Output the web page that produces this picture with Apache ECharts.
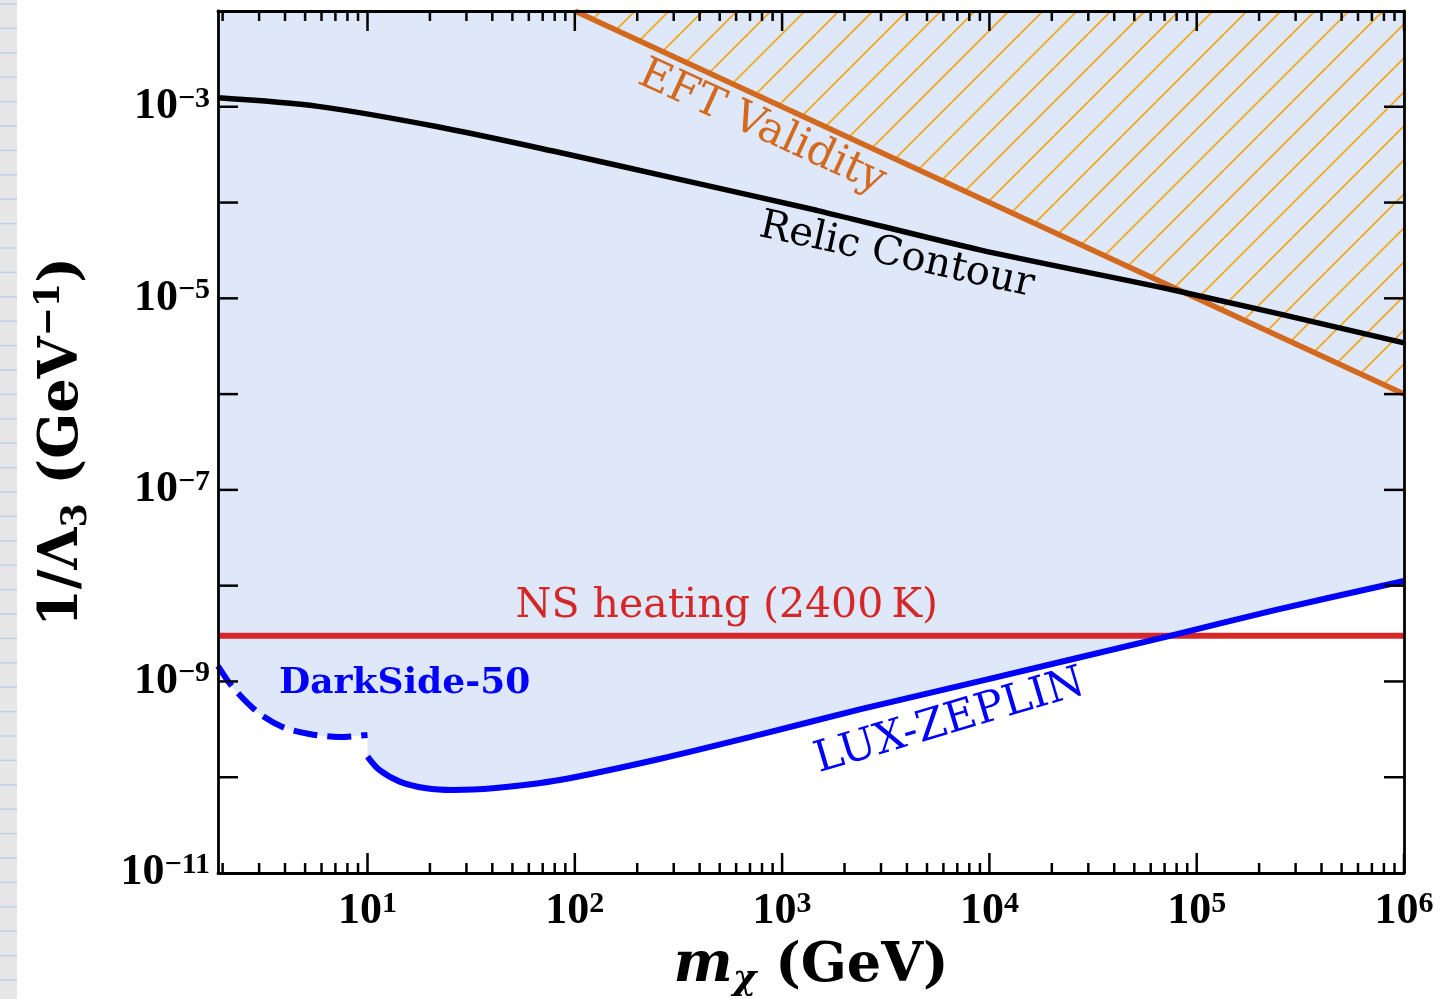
<!DOCTYPE html>
<html>
<head>
<meta charset="utf-8">
<title>1/Λ3 versus mχ</title>
<script src="https://cdn.jsdelivr.net/npm/echarts@6.0.0/dist/echarts.min.js"></script>
<style>
  html, body { margin: 0; padding: 0; background: #fff; }
  #chart { width: 1440px; height: 999px; }
</style>
</head>
<body>
<div id="chart"></div>
<script>
// axis ranges
var xMin = 1.9, xMax = 1e6;
var yMin = 1e-11, yMax = 1e-2;

// tick values
var xMajorTicks = [10, 100, 1e3, 1e4, 1e5, 1e6];
var yMajorTicks = [1e-10, 1e-9, 1e-8, 1e-7, 1e-6, 1e-5, 1e-4, 1e-3];

// relic contour (black)
var relicX = [1.9, 5.78, 21.5, 80.5, 301, 1465, 8990, 83000, 1e6];
var relicY = [1.24e-3, 1.01e-3, 6.22e-4, 3.41e-4, 1.80e-4, 8.3e-5, 3.21e-5, 1.18e-5, 3.43e-6];

// EFT validity edge, hatched above it
var eftX = [100, 1e6];
var eftY = [1e-2, 1e-6];

// NS heating (2400 K)
var nsX = [1.9, 1e6];
var nsY = [3.0e-9, 3.0e-9];

// DarkSide-50 (dashed)
var dsX = [1.9, 2.23, 2.94, 3.89, 5.25, 7.33, 10];
var dsY = [1.45e-9, 8.77e-10, 4.81e-10, 3.35e-10, 2.83e-10, 2.63e-10, 2.76e-10];

// LUX-ZEPLIN
var lzX = [10, 11.4, 14.3, 19.2, 25.8, 40.3, 84.5, 256, 780, 2370, 9550, 71800, 241000, 1e6];
var lzY = [1.64e-10, 1.19e-10, 9.0e-11, 7.67e-11, 7.36e-11, 7.67e-11, 9.35e-11, 1.55e-10, 2.78e-10, 5.1e-10, 1.04e-9, 2.94e-9, 5.58e-9, 1.12e-8];

// text notes, anchored in data coordinates (rot in degrees, + = counter-clockwise)
var notes = [
  { text: 'EFT Validity', x: 798, y: 6.04e-4, rot: -24.6, color: '#d2691e', weight: 'normal', size: 43 },
  { text: 'Relic Contour', x: 3573, y: 2.78e-5, rot: -12.5, color: '#000000', weight: 'normal', size: 40 },
  { text: 'NS heating (2400\u2009K)', x: 541, y: 6.15e-9, rot: 0, color: '#d62728', weight: 'normal', size: 41 },
  { text: 'DarkSide-50', x: 15.1, y: 9.42e-10, rot: 0, color: '#0000ff', weight: 'bold', size: 36 },
  { text: 'LUX-ZEPLIN', x: 6440, y: 3.78e-10, rot: 16.5, color: '#0000ff', weight: 'normal', size: 43 }
];

var FILL = '#dee8f8';

function zip(xs, ys) {
  return xs.map(function (x, i) { return [x, ys[i]]; });
}

// minor ticks 2..9 per decade on the mass axis
var minorX = [];
for (var d = 0; d < 6; d++) {
  for (var k = 2; k <= 9; k++) {
    var v = k * Math.pow(10, d);
    if (v > xMin && v < xMax) minorX.push(v);
  }
}

function hatchTile() {
  var w = 34, h = 34;
  var c = document.createElement('canvas');
  c.width = w; c.height = h;
  var g = c.getContext('2d');
  g.strokeStyle = '#f4a61c';
  g.lineWidth = 1.8;
  for (var i = -1; i <= 1; i++) {
    g.beginPath();
    g.moveTo(i * w, h);
    g.lineTo(i * w + w, 0);
    g.stroke();
  }
  return c;
}

function powLabel(v, oddOnly) {
  var e = Math.log10(v);
  var r = Math.round(e);
  if (Math.abs(e - r) > 1e-4) return '';
  if (oddOnly && r % 2 === 0) return '';
  return '{b|10}{s|' + String(r).replace('-', '\u2212') + '}';
}

var richTick = {
  b: { fontFamily: 'Liberation Serif', fontWeight: 'bold', fontSize: 44, lineHeight: 46, color: '#000' },
  s: { fontFamily: 'Liberation Serif', fontWeight: 'bold', fontSize: 30, lineHeight: 26, verticalAlign: 'top', color: '#000' }
};

var titleFont = 'DejaVu Serif';
var richTitle = {
  n: { fontFamily: titleFont, fontWeight: 'bold', fontSize: 54, lineHeight: 62, color: '#000' },
  i: { fontFamily: titleFont, fontWeight: 'bold', fontStyle: 'italic', fontSize: 56, lineHeight: 62, color: '#000' },
  sub: { fontFamily: titleFont, fontWeight: 'bold', fontStyle: 'italic', fontSize: 36, lineHeight: 42, verticalAlign: 'bottom', color: '#000' },
  subn: { fontFamily: titleFont, fontWeight: 'bold', fontSize: 35, lineHeight: 42, verticalAlign: 'bottom', color: '#000' },
  sup: { fontFamily: titleFont, fontWeight: 'bold', fontSize: 35, lineHeight: 38, verticalAlign: 'top', color: '#000' }
};

var axisLine = { show: true, onZero: false, lineStyle: { color: '#000', width: 2.8 } };

var chart = echarts.init(document.getElementById('chart'));

function tickStyle() {
  return { stroke: '#000', lineWidth: 2.5 };
}

var option = {
  backgroundColor: '#ffffff',
  animation: false,
  grid: { left: 218, right: 36, top: 11, bottom: 126, containLabel: false, outerBoundsMode: 'none' },
  xAxis: [
    {
      type: 'log', logBase: 10, position: 'bottom', min: xMin, max: xMax, z: 10,
      axisLine: axisLine, axisTick: { show: false }, splitLine: { show: false },
      axisLabel: { formatter: function (v) { return powLabel(v, false); }, margin: 16, rich: richTick },
      name: '{i|m}{sub|\u03c7}{n| (GeV)}', nameLocation: 'middle', nameGap: 60,
      nameTextStyle: { rich: richTitle }
    },
    {
      type: 'log', logBase: 10, position: 'top', min: xMin, max: xMax, z: 10,
      axisLine: axisLine, axisTick: { show: false }, splitLine: { show: false },
      axisLabel: { show: false }
    }
  ],
  yAxis: [
    {
      type: 'log', logBase: 10, position: 'left', min: yMin, max: yMax, splitNumber: 9, z: 10,
      axisLine: axisLine, axisTick: { show: false }, splitLine: { show: false },
      axisLabel: { formatter: function (v) { return powLabel(v, true); }, margin: 8, rich: richTick },
      name: '{n|1/\u039b}{subn|3}{n| (GeV}{sup|\u22121}{n|)}', nameLocation: 'middle', nameGap: 124,
      nameTextStyle: { rich: richTitle }
    },
    {
      type: 'log', logBase: 10, position: 'right', min: yMin, max: yMax, splitNumber: 9, z: 10,
      axisLine: axisLine, axisTick: { show: false }, splitLine: { show: false },
      axisLabel: { show: false }
    }
  ],
  series: [
    {
      // fill edge runs a little past 10 GeV so the two fills overlap without a seam
      name: 'fill DarkSide', type: 'line', smooth: 0.3, symbol: 'none', silent: true,
      data: zip(dsX, dsY).concat([[lzX[1], dsY[dsY.length - 1]]]),
      lineStyle: { width: 0, opacity: 0 }, areaStyle: { origin: 'end', color: FILL, opacity: 1 }, z: 1
    },
    {
      name: 'fill LZ', type: 'line', data: zip(lzX, lzY), smooth: 0.3, symbol: 'none', silent: true,
      lineStyle: { width: 0, opacity: 0 }, areaStyle: { origin: 'end', color: FILL, opacity: 1 }, z: 1
    },
    {
      name: 'EFT Validity', type: 'line', data: zip(eftX, eftY), symbol: 'none', silent: true,
      lineStyle: { color: '#d2691e', width: 5.5 },
      areaStyle: { origin: 'end', color: { image: hatchTile(), repeat: 'repeat' }, opacity: 1 }, z: 3
    },
    {
      name: 'Relic Contour', type: 'line', data: zip(relicX, relicY), smooth: 0.3, symbol: 'none', silent: true,
      lineStyle: { color: '#000000', width: 5.5 }, z: 4
    },
    {
      name: 'NS heating', type: 'line', data: zip(nsX, nsY), symbol: 'none', silent: true,
      lineStyle: { color: '#d62728', width: 6 }, z: 4
    },
    {
      name: 'DarkSide-50', type: 'line', data: zip(dsX, dsY), smooth: 0.3, symbol: 'none', silent: true,
      lineStyle: { color: '#0000ff', width: 6, type: [24, 10] }, z: 5
    },
    {
      name: 'LUX-ZEPLIN', type: 'line', data: zip(lzX, lzY), smooth: 0.3, symbol: 'none', silent: true,
      lineStyle: { color: '#0000ff', width: 6 }, z: 5
    },
    {
      // ticks along bottom and top (majors 20 px, minors 10 px)
      name: 'x ticks', type: 'custom', silent: true, z: 12,
      data: xMajorTicks.map(function (v) { return [v, yMin, 20]; })
        .concat(minorX.map(function (v) { return [v, yMin, 10]; })),
      renderItem: function (params, api) {
        var len = api.value(2);
        var b = api.coord([api.value(0), yMin]);
        var t = api.coord([api.value(0), yMax]);
        return {
          type: 'group',
          children: [
            { type: 'line', shape: { x1: b[0], y1: b[1], x2: b[0], y2: b[1] - len }, style: tickStyle() },
            { type: 'line', shape: { x1: t[0], y1: t[1], x2: t[0], y2: t[1] + len }, style: tickStyle() }
          ]
        };
      }
    },
    {
      // ticks along left and right
      name: 'y ticks', type: 'custom', silent: true, z: 12,
      data: yMajorTicks.map(function (v) { return [xMin, v, 20]; }),
      renderItem: function (params, api) {
        var len = api.value(2);
        var l = api.coord([xMin, api.value(1)]);
        var r = api.coord([xMax, api.value(1)]);
        return {
          type: 'group',
          children: [
            { type: 'line', shape: { x1: l[0], y1: l[1], x2: l[0] + len, y2: l[1] }, style: tickStyle() },
            { type: 'line', shape: { x1: r[0], y1: r[1], x2: r[0] - len, y2: r[1] }, style: tickStyle() }
          ]
        };
      }
    }
  ]
};

chart.setOption(option);

// paper strip at the left edge
var graphics = [
  { type: 'rect', shape: { x: 0, y: 0, width: 17, height: 999 }, style: { fill: '#e7e7e7' }, silent: true }
];
for (var yy = 4; yy < 999; yy += 24.4) {
  graphics.push({ type: 'line', shape: { x1: 0, y1: yy, x2: 17, y2: yy }, style: { stroke: '#bcd2e8', lineWidth: 1.5 }, silent: true });
}

notes.forEach(function (n) {
  var p = chart.convertToPixel({ xAxisIndex: 0, yAxisIndex: 0 }, [n.x, n.y]);
  graphics.push({
    type: 'text', x: p[0], y: p[1], rotation: n.rot * Math.PI / 180, z: 20, silent: true,
    style: {
      text: n.text, fill: n.color,
      font: n.weight + ' ' + n.size + 'px "DejaVu Serif"',
      align: 'center', verticalAlign: 'middle', textAlign: 'center', textVerticalAlign: 'middle'
    }
  });
});

chart.setOption({ graphic: graphics });
</script>
</body>
</html>
